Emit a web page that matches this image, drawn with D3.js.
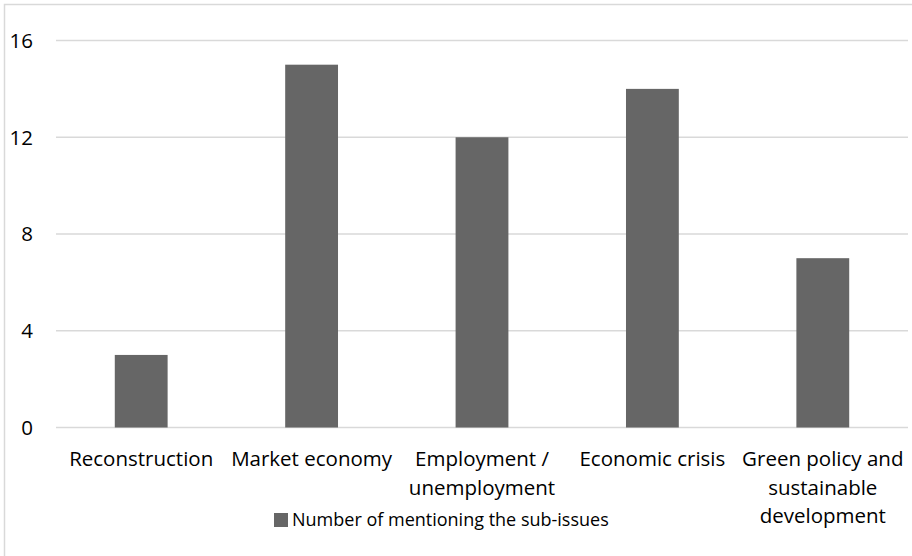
<!DOCTYPE html>
<html><head><meta charset="utf-8">
<script src="https://cdn.jsdelivr.net/npm/d3@7"></script>
<style>body{margin:0;background:#fff}svg{display:block}text{font-family:"Open Sans","Noto Sans",sans-serif;fill:#000}</style>
</head><body><svg width="912" height="556"></svg>
<script>
const categories = [["Reconstruction"],["Market economy"],["Employment /","unemployment"],["Economic crisis"],["Green policy and","sustainable","development"]];
const values = [3,15,12,14,7];
const yTicks = [0,4,8,12,16];
const seriesName = "Number of mentioning the sub-issues";

const svg = d3.select("svg");
svg.append("rect").attr("x",4.5).attr("y",4.5).attr("width",912).attr("height",560)
  .attr("fill","none").attr("stroke","#d9d9d9").attr("stroke-width",1.5);

const x = d3.scaleBand().domain(d3.range(values.length)).range([56,908]).paddingInner(0.69).paddingOuter(0.345);
const y = d3.scaleLinear().domain([0,16]).range([427.5,40.5]);

svg.append("g").selectAll("line").data(yTicks).join("line")
  .attr("x1",56).attr("x2",908).attr("y1",d=>y(d)).attr("y2",d=>y(d))
  .attr("stroke","#d9d9d9").attr("stroke-width",1.5);

svg.append("g").selectAll("text").data(yTicks).join("text")
  .attr("x",33).attr("y",d=>y(d)).attr("dy","0.36em").attr("text-anchor","end")
  .attr("font-size",20.5).text(d=>d);

svg.append("g").selectAll("rect").data(values).join("rect")
  .attr("x",(d,i)=>x(i)).attr("width",x.bandwidth())
  .attr("y",d=>y(d)).attr("height",d=>y(0)-y(d)).attr("fill","#666666");

svg.append("g").selectAll("text").data(categories).join("text")
  .attr("x",(d,i)=>x(i)+x.bandwidth()/2).attr("y",466).attr("text-anchor","middle").attr("font-size",20.5)
  .each(function(lines){
    const t=d3.select(this);
    lines.forEach((l,j)=>t.append("tspan").attr("x",t.attr("x")).attr("dy",j?28.5:0).text(l));
  });

svg.append("rect").attr("x",274).attr("y",513).attr("width",14).attr("height",14).attr("fill","#666666");
svg.append("text").attr("x",292).attr("y",526).attr("font-size",18).text(seriesName);
</script></body></html>
